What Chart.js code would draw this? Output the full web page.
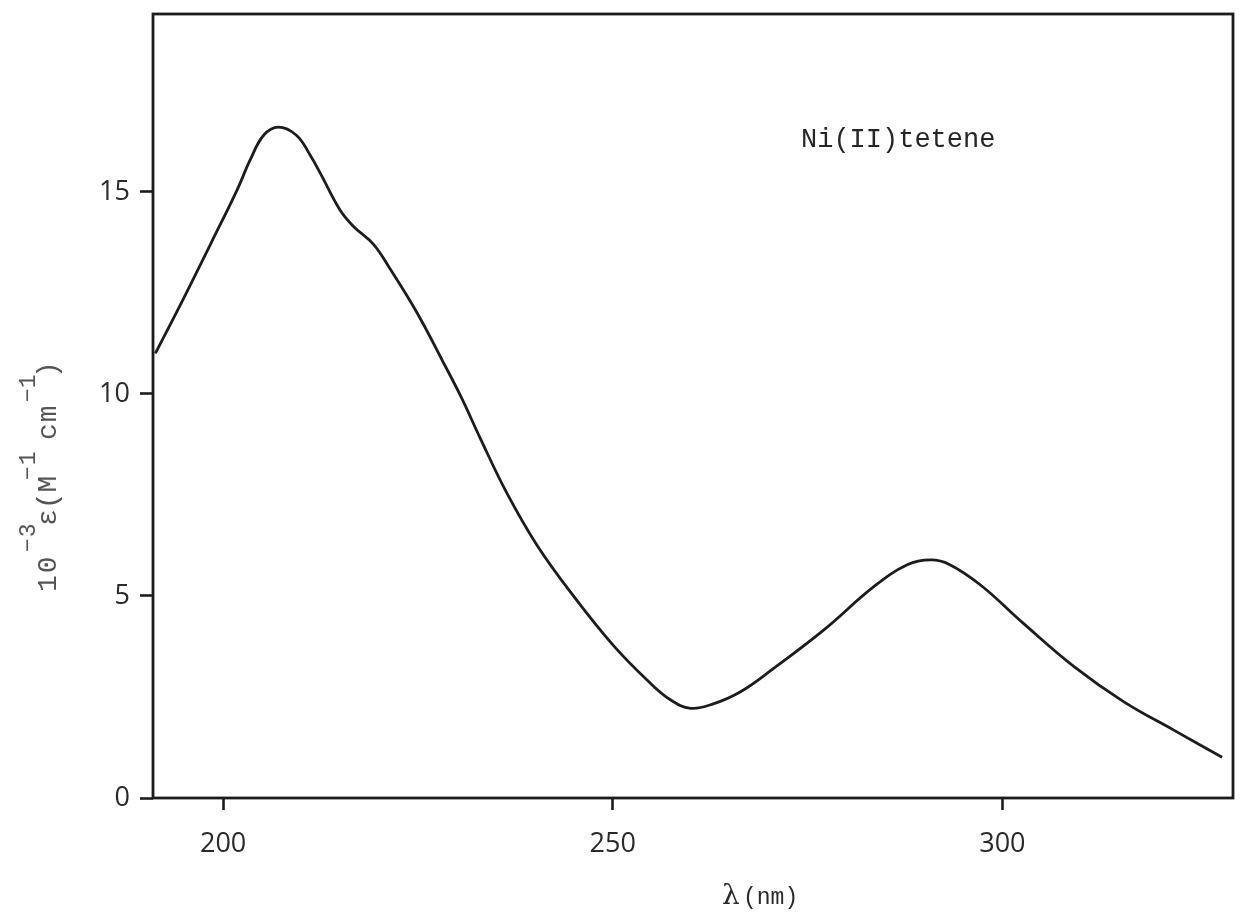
<!DOCTYPE html>
<html>
<head>
<meta charset="utf-8">
<title>Ni(II)tetene absorption spectrum</title>
<script src="https://cdn.jsdelivr.net/npm/chart.js@4/dist/chart.umd.min.js"></script>
<style>
  html, body { margin: 0; padding: 0; background: #ffffff; }
  #wrap { width: 1240px; height: 914px; position: relative; }
</style>
</head>
<body>
<div id="wrap"><canvas id="spectrum"></canvas></div>
<script>
// Wavelength (nm) and molar absorptivity (10^-3 M^-1 cm^-1) along the trace
const wavelengths = [
  191.3, 194.9, 198.5, 201.8, 203.5, 205.2, 207.1, 209.4, 211.2, 212.5,
  215.0, 216.7, 219.3, 221.4, 224.9, 228.2, 230.6, 233.0, 236.4,
  240.3, 245.0, 250.1, 254.4, 257.4, 260.0, 262.9, 266.4, 270.6, 277.1,
  283.5, 287.8, 290.8, 293.2, 297.2, 302.7, 309.2, 315.6, 322.0, 328.2
];
const epsilon = [
  11.0, 12.35, 13.75, 15.05, 15.8, 16.4, 16.6, 16.4, 15.9, 15.45,
  14.55, 14.15, 13.7, 13.1, 12.0, 10.8, 9.9, 8.9, 7.55,
  6.25, 4.99, 3.77, 2.92, 2.43, 2.22, 2.33, 2.63, 3.2, 4.16,
  5.23, 5.77, 5.89, 5.78, 5.27, 4.32, 3.25, 2.38, 1.68, 1.01
];
const xTickValues = [200, 250, 300];
const yTickValues = [0, 5, 10, 15];
const xRange = [191, 329.6];
const yRange = [0, 19.4];
const compoundLabel = 'Ni(II)tetene';

const INK = '#1c1c1c';
const TICK_FONT = { family: "'Open Sans', sans-serif", size: 27 };
const MONO = "'Liberation Mono', 'DejaVu Sans Mono', monospace";

// Box frame around the plot area, plus axis titles and the compound label
const decorations = {
  id: 'decorations',
  afterDraw(chart) {
    const { ctx, chartArea: a } = chart;
    ctx.save();
    ctx.strokeStyle = INK;
    ctx.lineWidth = 2.8;
    ctx.strokeRect(a.left, a.top, a.right - a.left, a.bottom - a.top);

    // compound label inside the plot
    ctx.fillStyle = '#262626';
    ctx.font = `27px ${MONO}`;
    ctx.textBaseline = 'alphabetic';
    ctx.textAlign = 'left';
    ctx.fillText(compoundLabel, 801, 147);

    // x-axis title: λ(nm)
    ctx.fillStyle = '#2a2a2a';
    ctx.font = "28px 'DejaVu Serif', serif";
    ctx.fillText('λ', 722, 904);
    ctx.font = `23px ${MONO}`;
    ctx.fillText('(nm)', 743, 904);

    // y-axis title: 10^-3 ε(M^-1 cm^-1), rotated
    ctx.translate(56, 592);
    ctx.rotate(-Math.PI / 2);
    ctx.fillStyle = '#555555';
    const base = `28px ${MONO}`;
    const sup = `23px ${MONO}`;
    const pieces = [
      { t: '10', x: 0, f: base, dy: 0, ls: 2 },
      { t: '−3', x: 40, f: sup, dy: -21, ls: 1 },
      { t: 'ε(M', x: 66, f: base, dy: 0, ls: 0 },
      { t: '−1', x: 112, f: sup, dy: -21, ls: 1 },
      { t: 'cm', x: 152, f: base, dy: 0, ls: 1 },
      { t: '−1', x: 190, f: sup, dy: -21, ls: 0 },
      { t: ')', x: 214, f: base, dy: 0, ls: 0 }
    ];
    pieces.forEach(p => {
      ctx.font = p.f;
      ctx.letterSpacing = p.ls + 'px';
      ctx.fillText(p.t, p.x, p.dy);
    });
    ctx.restore();
  }
};

new Chart(document.getElementById('spectrum'), {
  type: 'line',
  data: {
    datasets: [{
      label: compoundLabel,
      data: wavelengths.map((w, i) => ({ x: w, y: epsilon[i] })),
      borderColor: INK,
      borderWidth: 2.8,
      pointRadius: 0,
      fill: false,
      tension: 0.4
    }]
  },
  options: {
    responsive: true,
    maintainAspectRatio: false,
    animation: false,
    layout: { padding: { top: 14, right: 7, left: 0, bottom: 0 } },
    plugins: { legend: { display: false }, tooltip: { enabled: false } },
    scales: {
      x: {
        type: 'linear',
        min: xRange[0],
        max: xRange[1],
        afterBuildTicks: s => { s.ticks = xTickValues.map(v => ({ value: v })); },
        afterFit: s => { s.height = 116; s.paddingLeft = 0; s.paddingRight = 0; },
        grid: { drawOnChartArea: false, drawTicks: true, tickLength: 12, tickWidth: 2.6, tickColor: INK },
        border: { display: false },
        ticks: { color: '#2a2a2a', font: TICK_FONT, padding: 18, maxRotation: 0 }
      },
      y: {
        type: 'linear',
        min: yRange[0],
        max: yRange[1],
        afterBuildTicks: s => { s.ticks = yTickValues.map(v => ({ value: v })); },
        afterFit: s => { s.width = 153; s.paddingTop = 0; s.paddingBottom = 0; },
        grid: { drawOnChartArea: false, drawTicks: true, tickLength: 13, tickWidth: 2.6, tickColor: INK },
        border: { display: false },
        ticks: { color: '#2a2a2a', font: TICK_FONT, padding: 10 }
      }
    }
  },
  plugins: [decorations]
});
</script>
</body>
</html>
